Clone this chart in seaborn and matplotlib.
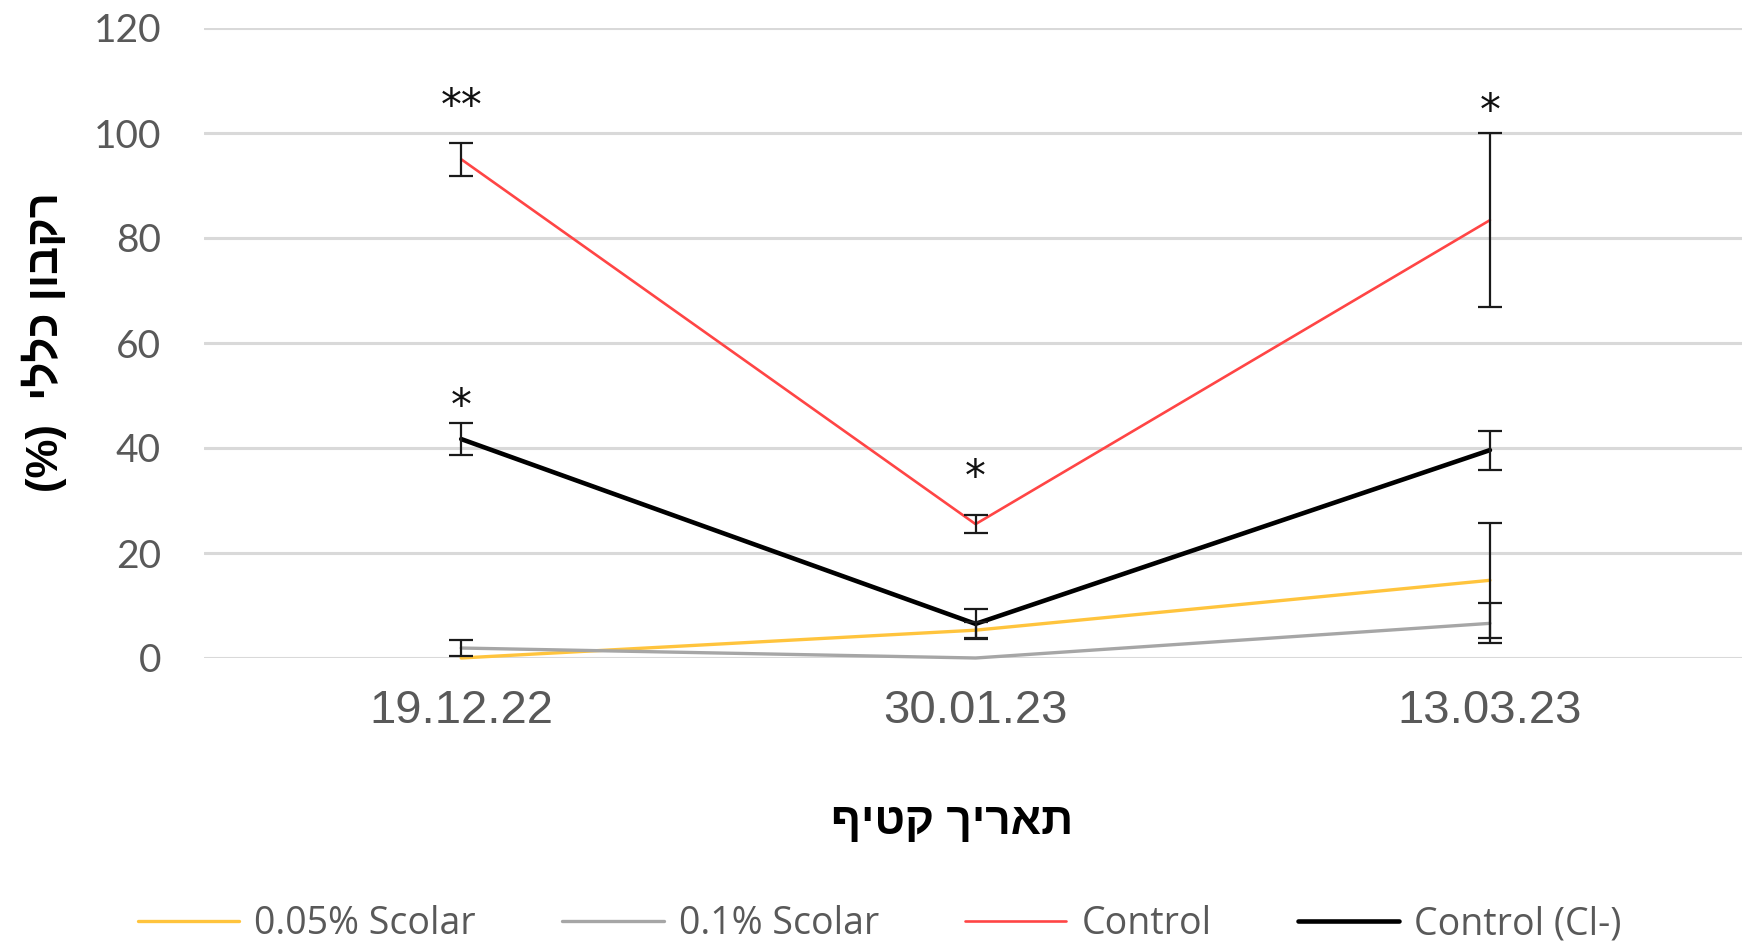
import matplotlib
matplotlib.use("Agg")
import matplotlib.pyplot as plt
import seaborn as sns

# Harvest dates and total rot (%) per treatment, with standard errors
dates = ["19.12.22", "30.01.23", "13.03.23"]

scolar_005 = [0.0, 5.3, 14.8]
scolar_005_err = [0.0, 1.5, 11.0]

scolar_01 = [1.9, 0.0, 6.6]
scolar_01_err = [1.5, 0.0, 3.8]

control = [95.0, 25.5, 83.4]
control_err = [3.1, 1.7, 16.6]

control_cl = [41.7, 6.5, 39.6]
control_cl_err = [3.0, 2.9, 3.7]

series_labels = ["0.05% Scolar", "0.1% Scolar", "Control", "Control (Cl-)"]
y_ticks = [0, 20, 40, 60, 80, 100, 120]

# significance marks: (text, date index)
signif_marks = ["**", "*", "*", "*"]
signif_idx = [0, 0, 1, 2]

# Hebrew axis titles (logical order); drawn in visual order below
ylabel_he = "רקבון כללי"
xlabel_he = "תאריך קטיף"

sns.set_theme(style="white")
plt.rcParams["font.family"] = ["Lato", "DejaVu Sans"]

fig = plt.figure(figsize=(17.42, 9.48), dpi=100)
ax = fig.add_axes([204 / 1742, 1 - 658 / 948, 1538 / 1742, 630 / 948])

series = [
    (scolar_005, scolar_005_err, "#FFC43D", 2.4),
    (scolar_01, scolar_01_err, "#A6A6A6", 2.4),
    (control, control_err, "#FF4545", 1.9),
    (control_cl, control_cl_err, "#000000", 3.3),
]

for (vals, errs, color, lw), name in zip(series, series_labels):
    sns.lineplot(x=dates, y=vals, color=color, linewidth=lw, sort=False,
                 label=name, ax=ax, clip_on=False, zorder=3)

# error bars only where a standard error exists
for (vals, errs, color, lw) in series:
    xs = [d for d, e in zip(dates, errs) if e > 0]
    ys = [v for v, e in zip(vals, errs) if e > 0]
    es = [e for e in errs if e > 0]
    ax.errorbar(xs, ys, yerr=es, fmt="none", ecolor="#1a1a1a",
                elinewidth=1.6, capsize=8.6, capthick=1.6, zorder=4,
                clip_on=False)

# significance asterisks above the upper error bar
mark_src = [(control, control_err, 6.8), (control_cl, control_cl_err, 3.2),
            (control, control_err, 7.0), (control, control_err, 4.0)]
for mark, i, (vals, errs, gap) in zip(signif_marks, signif_idx, mark_src):
    ax.text(i, vals[i] + errs[i] + gap, mark, ha="center", va="center",
            fontsize=30, color="#111111", family=["DejaVu Sans"])

ax.set_xlim(-0.5, 2.49)
ax.set_ylim(0, 120)
ax.set_yticks(y_ticks)
ax.yaxis.grid(True, color="#D9D9D9", linewidth=2.2, zorder=0)
ax.xaxis.grid(False)
ax.set_axisbelow(True)
for sp in ax.spines.values():
    sp.set_visible(False)

ax.tick_params(axis="y", length=0, pad=31, labelsize=28, labelcolor="#595959")
ax.tick_params(axis="x", length=0, pad=22, labelsize=34, labelcolor="#595959")
for t in ax.get_xticklabels():
    t.set_family(["Liberation Sans", "DejaVu Sans"])
ax.set_xlabel("")
ax.set_ylabel("")

fig.text(44 / 1742, 1 - 342 / 948, "(%)  " + ylabel_he[::-1], rotation=90,
         ha="center", va="center", fontsize=31.5, fontweight="bold",
         color="black", family=["Liberation Sans", "DejaVu Sans"])
fig.text(952 / 1742, 1 - 822 / 948, xlabel_he[::-1], ha="center", va="center",
         fontsize=32, fontweight="bold", color="black",
         family=["Liberation Sans", "DejaVu Sans"])

handles, labels = ax.get_legend_handles_labels()
ax.get_legend().remove()
leg = fig.legend(handles, labels, loc="center", bbox_to_anchor=(0.505, 1 - 924 / 948),
                 ncol=4, frameon=False, handlelength=2.7,
                 handletextpad=0.4, columnspacing=2.3,
                 prop={"family": ["Open Sans", "DejaVu Sans"], "size": 27})
for txt in leg.get_texts():
    txt.set_color("#595959")

fig.savefig("out.png", dpi=100)
